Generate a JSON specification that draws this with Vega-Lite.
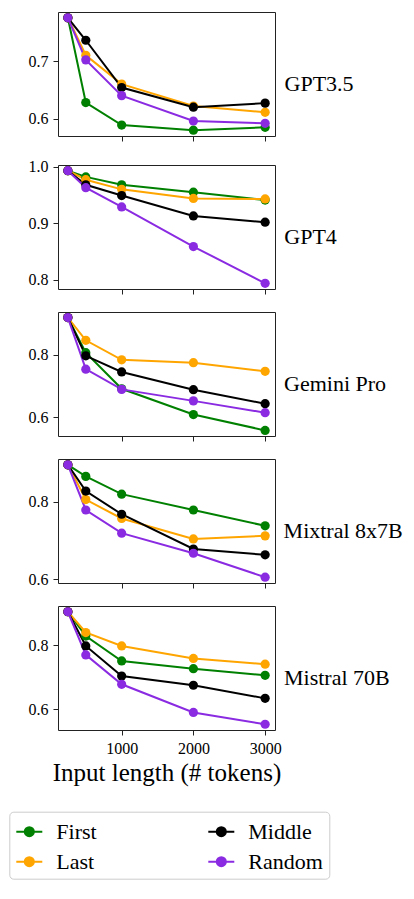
{
  "$schema": "https://vega.github.io/schema/vega-lite/v6.json",
  "padding": {"left": 8, "top": 11, "right": 5, "bottom": 5},
  "background": "white",
  "datasets": {
    "acc": [
      {"model": "GPT3.5", "position": "First", "tokens": 250, "acc": 0.775},
      {"model": "GPT3.5", "position": "First", "tokens": 500, "acc": 0.628},
      {"model": "GPT3.5", "position": "First", "tokens": 1000, "acc": 0.589},
      {"model": "GPT3.5", "position": "First", "tokens": 2000, "acc": 0.580},
      {"model": "GPT3.5", "position": "First", "tokens": 3000, "acc": 0.585},
      {"model": "GPT3.5", "position": "Last", "tokens": 250, "acc": 0.775},
      {"model": "GPT3.5", "position": "Last", "tokens": 500, "acc": 0.710},
      {"model": "GPT3.5", "position": "Last", "tokens": 1000, "acc": 0.660},
      {"model": "GPT3.5", "position": "Last", "tokens": 2000, "acc": 0.622},
      {"model": "GPT3.5", "position": "Last", "tokens": 3000, "acc": 0.611},
      {"model": "GPT3.5", "position": "Middle", "tokens": 250, "acc": 0.775},
      {"model": "GPT3.5", "position": "Middle", "tokens": 500, "acc": 0.736},
      {"model": "GPT3.5", "position": "Middle", "tokens": 1000, "acc": 0.654},
      {"model": "GPT3.5", "position": "Middle", "tokens": 2000, "acc": 0.620},
      {"model": "GPT3.5", "position": "Middle", "tokens": 3000, "acc": 0.627},
      {"model": "GPT3.5", "position": "Random", "tokens": 250, "acc": 0.775},
      {"model": "GPT3.5", "position": "Random", "tokens": 500, "acc": 0.702},
      {"model": "GPT3.5", "position": "Random", "tokens": 1000, "acc": 0.640},
      {"model": "GPT3.5", "position": "Random", "tokens": 2000, "acc": 0.596},
      {"model": "GPT3.5", "position": "Random", "tokens": 3000, "acc": 0.592},

      {"model": "GPT4", "position": "First", "tokens": 250, "acc": 0.993},
      {"model": "GPT4", "position": "First", "tokens": 500, "acc": 0.982},
      {"model": "GPT4", "position": "First", "tokens": 1000, "acc": 0.968},
      {"model": "GPT4", "position": "First", "tokens": 2000, "acc": 0.955},
      {"model": "GPT4", "position": "First", "tokens": 3000, "acc": 0.941},
      {"model": "GPT4", "position": "Last", "tokens": 250, "acc": 0.993},
      {"model": "GPT4", "position": "Last", "tokens": 500, "acc": 0.977},
      {"model": "GPT4", "position": "Last", "tokens": 1000, "acc": 0.960},
      {"model": "GPT4", "position": "Last", "tokens": 2000, "acc": 0.944},
      {"model": "GPT4", "position": "Last", "tokens": 3000, "acc": 0.943},
      {"model": "GPT4", "position": "Middle", "tokens": 250, "acc": 0.993},
      {"model": "GPT4", "position": "Middle", "tokens": 500, "acc": 0.968},
      {"model": "GPT4", "position": "Middle", "tokens": 1000, "acc": 0.949},
      {"model": "GPT4", "position": "Middle", "tokens": 2000, "acc": 0.913},
      {"model": "GPT4", "position": "Middle", "tokens": 3000, "acc": 0.902},
      {"model": "GPT4", "position": "Random", "tokens": 250, "acc": 0.993},
      {"model": "GPT4", "position": "Random", "tokens": 500, "acc": 0.963},
      {"model": "GPT4", "position": "Random", "tokens": 1000, "acc": 0.929},
      {"model": "GPT4", "position": "Random", "tokens": 2000, "acc": 0.859},
      {"model": "GPT4", "position": "Random", "tokens": 3000, "acc": 0.794},

      {"model": "Gemini Pro", "position": "First", "tokens": 250, "acc": 0.920},
      {"model": "Gemini Pro", "position": "First", "tokens": 500, "acc": 0.807},
      {"model": "Gemini Pro", "position": "First", "tokens": 1000, "acc": 0.691},
      {"model": "Gemini Pro", "position": "First", "tokens": 2000, "acc": 0.608},
      {"model": "Gemini Pro", "position": "First", "tokens": 3000, "acc": 0.557},
      {"model": "Gemini Pro", "position": "Last", "tokens": 250, "acc": 0.920},
      {"model": "Gemini Pro", "position": "Last", "tokens": 500, "acc": 0.847},
      {"model": "Gemini Pro", "position": "Last", "tokens": 1000, "acc": 0.784},
      {"model": "Gemini Pro", "position": "Last", "tokens": 2000, "acc": 0.775},
      {"model": "Gemini Pro", "position": "Last", "tokens": 3000, "acc": 0.747},
      {"model": "Gemini Pro", "position": "Middle", "tokens": 250, "acc": 0.920},
      {"model": "Gemini Pro", "position": "Middle", "tokens": 500, "acc": 0.797},
      {"model": "Gemini Pro", "position": "Middle", "tokens": 1000, "acc": 0.745},
      {"model": "Gemini Pro", "position": "Middle", "tokens": 2000, "acc": 0.688},
      {"model": "Gemini Pro", "position": "Middle", "tokens": 3000, "acc": 0.643},
      {"model": "Gemini Pro", "position": "Random", "tokens": 250, "acc": 0.920},
      {"model": "Gemini Pro", "position": "Random", "tokens": 500, "acc": 0.754},
      {"model": "Gemini Pro", "position": "Random", "tokens": 1000, "acc": 0.689},
      {"model": "Gemini Pro", "position": "Random", "tokens": 2000, "acc": 0.652},
      {"model": "Gemini Pro", "position": "Random", "tokens": 3000, "acc": 0.614},

      {"model": "Mixtral 8x7B", "position": "First", "tokens": 250, "acc": 0.896},
      {"model": "Mixtral 8x7B", "position": "First", "tokens": 500, "acc": 0.866},
      {"model": "Mixtral 8x7B", "position": "First", "tokens": 1000, "acc": 0.820},
      {"model": "Mixtral 8x7B", "position": "First", "tokens": 2000, "acc": 0.779},
      {"model": "Mixtral 8x7B", "position": "First", "tokens": 3000, "acc": 0.738},
      {"model": "Mixtral 8x7B", "position": "Last", "tokens": 250, "acc": 0.896},
      {"model": "Mixtral 8x7B", "position": "Last", "tokens": 500, "acc": 0.806},
      {"model": "Mixtral 8x7B", "position": "Last", "tokens": 1000, "acc": 0.757},
      {"model": "Mixtral 8x7B", "position": "Last", "tokens": 2000, "acc": 0.704},
      {"model": "Mixtral 8x7B", "position": "Last", "tokens": 3000, "acc": 0.712},
      {"model": "Mixtral 8x7B", "position": "Middle", "tokens": 250, "acc": 0.896},
      {"model": "Mixtral 8x7B", "position": "Middle", "tokens": 500, "acc": 0.828},
      {"model": "Mixtral 8x7B", "position": "Middle", "tokens": 1000, "acc": 0.768},
      {"model": "Mixtral 8x7B", "position": "Middle", "tokens": 2000, "acc": 0.678},
      {"model": "Mixtral 8x7B", "position": "Middle", "tokens": 3000, "acc": 0.663},
      {"model": "Mixtral 8x7B", "position": "Random", "tokens": 250, "acc": 0.896},
      {"model": "Mixtral 8x7B", "position": "Random", "tokens": 500, "acc": 0.779},
      {"model": "Mixtral 8x7B", "position": "Random", "tokens": 1000, "acc": 0.719},
      {"model": "Mixtral 8x7B", "position": "Random", "tokens": 2000, "acc": 0.667},
      {"model": "Mixtral 8x7B", "position": "Random", "tokens": 3000, "acc": 0.605},

      {"model": "Mistral 70B", "position": "First", "tokens": 250, "acc": 0.905},
      {"model": "Mistral 70B", "position": "First", "tokens": 500, "acc": 0.829},
      {"model": "Mistral 70B", "position": "First", "tokens": 1000, "acc": 0.751},
      {"model": "Mistral 70B", "position": "First", "tokens": 2000, "acc": 0.727},
      {"model": "Mistral 70B", "position": "First", "tokens": 3000, "acc": 0.706},
      {"model": "Mistral 70B", "position": "Last", "tokens": 250, "acc": 0.905},
      {"model": "Mistral 70B", "position": "Last", "tokens": 500, "acc": 0.840},
      {"model": "Mistral 70B", "position": "Last", "tokens": 1000, "acc": 0.798},
      {"model": "Mistral 70B", "position": "Last", "tokens": 2000, "acc": 0.759},
      {"model": "Mistral 70B", "position": "Last", "tokens": 3000, "acc": 0.741},
      {"model": "Mistral 70B", "position": "Middle", "tokens": 250, "acc": 0.905},
      {"model": "Mistral 70B", "position": "Middle", "tokens": 500, "acc": 0.798},
      {"model": "Mistral 70B", "position": "Middle", "tokens": 1000, "acc": 0.704},
      {"model": "Mistral 70B", "position": "Middle", "tokens": 2000, "acc": 0.675},
      {"model": "Mistral 70B", "position": "Middle", "tokens": 3000, "acc": 0.634},
      {"model": "Mistral 70B", "position": "Random", "tokens": 250, "acc": 0.905},
      {"model": "Mistral 70B", "position": "Random", "tokens": 500, "acc": 0.770},
      {"model": "Mistral 70B", "position": "Random", "tokens": 1000, "acc": 0.678},
      {"model": "Mistral 70B", "position": "Random", "tokens": 2000, "acc": 0.590},
      {"model": "Mistral 70B", "position": "Random", "tokens": 3000, "acc": 0.553}
    ]
  },
  "spacing": 16,
  "resolve": {"scale": {"color": "shared"}, "legend": {"color": "shared"}},
  "vconcat": [
    {
      "width": 217, "height": 124,
      "data": {"name": "acc"},
      "transform": [{"filter": {"field": "model", "equal": "GPT3.5"}}],
      "title": {"text": "GPT3.5", "offset": -25},
      "encoding": {
        "x": {"field": "tokens", "type": "quantitative", "scale": {"domain": [112.5, 3137.5], "nice": false, "zero": false}, "axis": {"values": [1000, 2000, 3000], "labels": false, "title": null}},
        "y": {"field": "acc", "type": "quantitative", "scale": {"domain": [0.570, 0.785], "nice": false, "zero": false}, "axis": {"values": [0.6, 0.7], "format": ".1f", "title": null}},
        "color": {
          "field": "position", "type": "nominal",
          "scale": {"domain": ["First", "Last", "Middle", "Random"], "range": ["#008000", "#FFA500", "#000000", "#8A2BE2"]},
          "legend": {
            "title": null, "values": ["First", "Last", "Middle", "Random"],
            "orient": "none", "legendX": -48.7, "legendY": 799.7, "columns": 2, "columnPadding": 107, "rowPadding": 5,
            "symbolType": "M-1,0L1,0M-0.35,0A0.35,0.35,0,1,1,0.35,0A0.35,0.35,0,1,1,-0.35,0Z",
            "symbolSize": 676, "symbolStrokeWidth": 2,
            "labelFont": "Liberation Serif", "labelFontSize": 22, "labelColor": "#000", "labelOffset": 13,
            "strokeColor": "#cccccc", "cornerRadius": 4, "padding": 6, "fillColor": "#ffffff",
            "encode": {"symbols": {"update": {"fill": {"scale": "color", "field": "value"}, "stroke": {"scale": "color", "field": "value"}, "opacity": {"value": 1}}}}
          }
        }
      },
      "layer": [
        {"mark": {"type": "line", "strokeWidth": 2}},
        {"mark": {"type": "point", "filled": true, "size": 85, "opacity": 1}}
      ]
    },
    {
      "width": 217, "height": 124,
      "data": {"name": "acc"},
      "transform": [{"filter": {"field": "model", "equal": "GPT4"}}],
      "title": {"text": "GPT4", "offset": -17},
      "encoding": {
        "x": {"field": "tokens", "type": "quantitative", "scale": {"domain": [112.5, 3137.5], "nice": false, "zero": false}, "axis": {"values": [1000, 2000, 3000], "labels": false, "title": null}},
        "y": {"field": "acc", "type": "quantitative", "scale": {"domain": [0.784, 1.003], "nice": false, "zero": false}, "axis": {"values": [0.8, 0.9, 1.0], "format": ".1f", "title": null}},
        "color": {"field": "position", "type": "nominal", "scale": {"domain": ["First", "Last", "Middle", "Random"], "range": ["#008000", "#FFA500", "#000000", "#8A2BE2"]}}
      },
      "layer": [
        {"mark": {"type": "line", "strokeWidth": 2}},
        {"mark": {"type": "point", "filled": true, "size": 85, "opacity": 1}}
      ]
    },
    {
      "width": 217, "height": 124,
      "data": {"name": "acc"},
      "transform": [{"filter": {"field": "model", "equal": "Gemini Pro"}}],
      "title": {"text": "Gemini Pro", "offset": -42},
      "encoding": {
        "x": {"field": "tokens", "type": "quantitative", "scale": {"domain": [112.5, 3137.5], "nice": false, "zero": false}, "axis": {"values": [1000, 2000, 3000], "labels": false, "title": null}},
        "y": {"field": "acc", "type": "quantitative", "scale": {"domain": [0.539, 0.938], "nice": false, "zero": false}, "axis": {"values": [0.6, 0.8], "format": ".1f", "title": null}},
        "color": {"field": "position", "type": "nominal", "scale": {"domain": ["First", "Last", "Middle", "Random"], "range": ["#008000", "#FFA500", "#000000", "#8A2BE2"]}}
      },
      "layer": [
        {"mark": {"type": "line", "strokeWidth": 2}},
        {"mark": {"type": "point", "filled": true, "size": 85, "opacity": 1}}
      ]
    },
    {
      "width": 217, "height": 124,
      "data": {"name": "acc"},
      "transform": [{"filter": {"field": "model", "equal": "Mixtral 8x7B"}}],
      "title": {"text": "Mixtral 8x7B", "offset": -51},
      "encoding": {
        "x": {"field": "tokens", "type": "quantitative", "scale": {"domain": [112.5, 3137.5], "nice": false, "zero": false}, "axis": {"values": [1000, 2000, 3000], "labels": false, "title": null}},
        "y": {"field": "acc", "type": "quantitative", "scale": {"domain": [0.590, 0.911], "nice": false, "zero": false}, "axis": {"values": [0.6, 0.8], "format": ".1f", "title": null}},
        "color": {"field": "position", "type": "nominal", "scale": {"domain": ["First", "Last", "Middle", "Random"], "range": ["#008000", "#FFA500", "#000000", "#8A2BE2"]}}
      },
      "layer": [
        {"mark": {"type": "line", "strokeWidth": 2}},
        {"mark": {"type": "point", "filled": true, "size": 85, "opacity": 1}}
      ]
    },
    {
      "width": 217, "height": 124,
      "data": {"name": "acc"},
      "transform": [{"filter": {"field": "model", "equal": "Mistral 70B"}}],
      "title": {"text": "Mistral 70B", "offset": -50},
      "encoding": {
        "x": {"field": "tokens", "type": "quantitative", "scale": {"domain": [112.5, 3137.5], "nice": false, "zero": false}, "axis": {"values": [1000, 2000, 3000], "labels": true, "format": "d", "title": "Input length (# tokens)", "titlePadding": 4}},
        "y": {"field": "acc", "type": "quantitative", "scale": {"domain": [0.535, 0.923], "nice": false, "zero": false}, "axis": {"values": [0.6, 0.8], "format": ".1f", "title": null}},
        "color": {"field": "position", "type": "nominal", "scale": {"domain": ["First", "Last", "Middle", "Random"], "range": ["#008000", "#FFA500", "#000000", "#8A2BE2"]}}
      },
      "layer": [
        {"mark": {"type": "line", "strokeWidth": 2}},
        {"mark": {"type": "point", "filled": true, "size": 85, "opacity": 1}}
      ]
    }
  ],
  "config": {
    "font": "Liberation Serif",
    "view": {"stroke": "#222222", "strokeWidth": 1},
    "axis": {
      "grid": false, "domain": false, "tickColor": "#222222", "tickSize": 5, "tickWidth": 1,
      "labelFont": "Liberation Serif", "labelFontSize": 16, "labelColor": "#000000", "labelPadding": 5,
      "titleFont": "Liberation Serif", "titleFontSize": 25, "titleFontWeight": "normal", "titleColor": "#000000"
    },
    "title": {
      "orient": "right", "angle": 0, "align": "left", "baseline": "middle", "anchor": "middle",
      "font": "Liberation Serif", "fontSize": 22, "fontWeight": "normal", "color": "#000000"
    }
  }
}
